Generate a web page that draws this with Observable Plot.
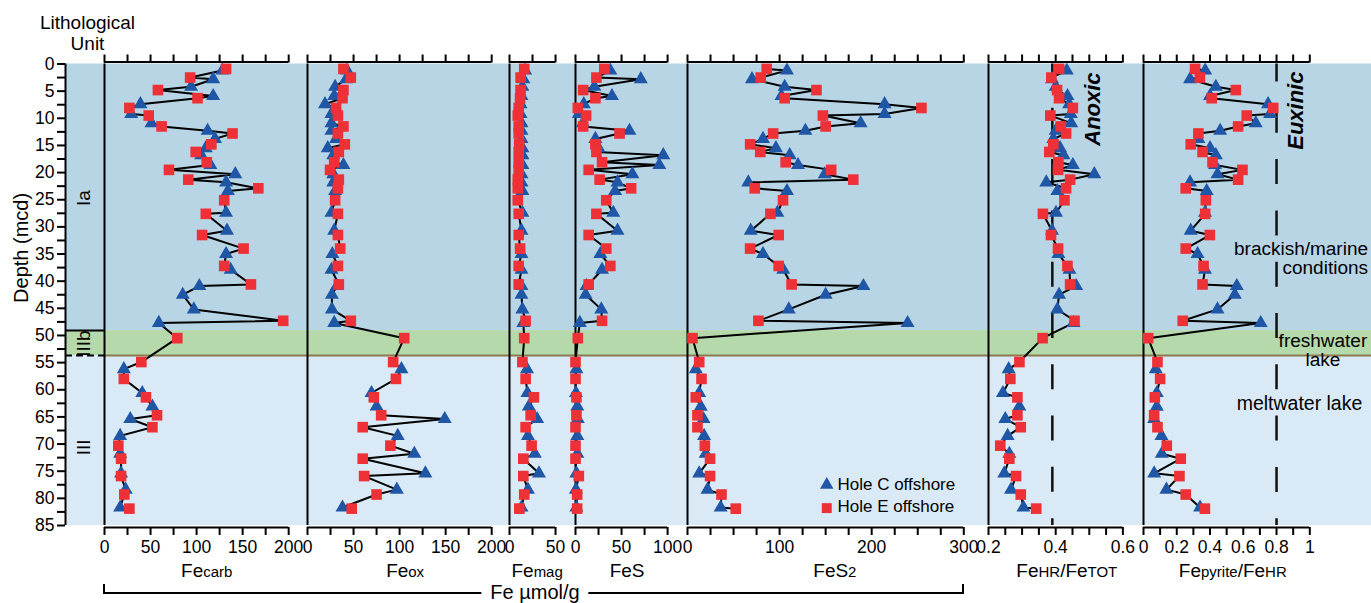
<!DOCTYPE html>
<html>
<head>
<meta charset="utf-8">
<script src="https://cdn.jsdelivr.net/npm/d3@7"></script>
<script src="https://cdn.jsdelivr.net/npm/@observablehq/plot@0.6"></script>
<style>
  body { margin: 0; background: #fff; font-family: "Liberation Sans", Arial, Helvetica, sans-serif; }
  #chart { position: relative; width: 1371px; height: 603px; overflow: hidden; background: #fff; }
  #chart svg { position: absolute; top: 0; overflow: visible; }
  #bracket { position: absolute; left: 103px; top: 584px; width: 861px; height: 10px; box-sizing: border-box;
             border-left: 2px solid #000; border-right: 2px solid #000; border-bottom: 2px solid #000; }
  #bracketLabel { position: absolute; left: 535px; top: 582px; transform: translateX(-50%); background: #fff;
                  padding: 0 9px; font-size: 20px; line-height: 20px; color: #000; white-space: nowrap; }
</style>
</head>
<body>
<div id="chart"></div>
<script>
// ---------------- data ----------------
const depthC = [1.2,2.8,4.2,5.9,7.4,9.2,10.9,12.3,13.8,15.5,16.8,18.6,20.3,21.8,23.4,27.4,30.7,35.0,37.9,40.9,42.5,45.2,47.7,56.2,60.6,63.1,65.4,68.5,71.8,75.4,78.4,81.7];
const depthE = [0.9,2.5,4.8,6.3,8.1,9.5,11.5,12.8,14.8,16.2,18.1,19.5,21.3,22.9,25.1,27.6,31.5,34.0,37.2,40.6,47.3,50.5,54.9,58.0,61.4,64.7,66.9,70.3,72.7,75.9,79.3,81.9];

const fecarbC = [128,118,94,118,39,29,51,112,120,110,105,115,142,132,134,132,133,132,137,103,85,97,59,21,41,52,28,17,17,18,23,17];
const fecarbE = [132,93,58,101,27,48,62,139,116,99,111,70,91,167,130,110,106,151,130,159,194,79,40,21,45,57,52,15,18,18,21.5,27];

const feoxC = [43,42,30,29,19,26,26,26,31,22,28,39,28,28,30,26,29,27,26,32,26.5,26.5,29,102,69.5,75,149,98,116,128,97,38];
const feoxE = [39,47,39,38,31,33,39,33,40.5,34,29,24.5,34,33,30,33,33,35.5,33,34,47,105,93,96,72,80,60,90,60,61.5,75,48];

const femagC = [17,15,14,13,12,12,13,13,13,14,14,14,13,13,14,14,13,13,13,13,13,14,15,19,19.5,21,30,20,27.5,32,20,13];
const femagE = [16,12,12,11.5,10,9,10,10,10.5,10,10,10,9,9,9,10,10,11.5,10,10,17.5,16,14,17.5,26.5,23,17.5,24,15,15,16,10.7];

const fesC = [37.8,70.9,20.5,39.6,9,3.6,8,58.6,21.6,25,95.3,91,61.8,45.6,43,41,45.6,27,28.8,12,11,28,4.7,1,0.5,2,2.5,2,2,1,0.5,1];
const fesE = [31.3,22.7,8.3,21.6,2.5,11.5,8.3,47.8,21.6,22.7,28.8,14.3,26.2,60.4,33.4,22.7,14.3,33.4,37.8,14.3,28.8,2.5,0,0,1,1,0,0,0,3.6,1.8,1.8];

const fes2C = [108,70,105.5,102,214,214,188,128,82,96,111,120,149,66,108,97.6,68.7,82,104,191,150,110,239,9,12.7,14.4,17.4,18,19.8,12.7,21.7,36];
const fes2E = [86,79.5,140,105.5,254,147,150,93,68,79,106.6,156,180,73,103.7,90,99,68,99,113,77,5.4,12.7,15.2,9,10.8,10.8,18.8,24.5,24.5,36.9,52.4];

const fehrC = [0.433,0.389,0.40,0.435,0.44,0.445,0.446,0.40,0.393,0.413,0.423,0.451,0.515,0.372,0.405,0.401,0.389,0.408,0.441,0.461,0.41,0.405,0.453,0.26,0.243,0.292,0.25,0.257,0.262,0.247,0.267,0.304];
const fehrE = [0.410,0.387,0.404,0.410,0.451,0.384,0.415,0.431,0.393,0.381,0.408,0.407,0.443,0.431,0.426,0.362,0.386,0.407,0.435,0.443,0.456,0.361,0.292,0.265,0.286,0.286,0.296,0.235,0.262,0.282,0.296,0.342];

const fepyC = [0.371,0.28,0.435,0.40,0.749,0.761,0.675,0.461,0.33,0.40,0.435,0.43,0.445,0.28,0.38,0.37,0.284,0.325,0.37,0.561,0.549,0.445,0.705,0.074,0.08,0.08,0.064,0.108,0.11,0.064,0.138,0.34];
const fepyE = [0.31,0.339,0.555,0.41,0.78,0.621,0.569,0.33,0.284,0.355,0.415,0.595,0.569,0.254,0.375,0.371,0.399,0.254,0.361,0.355,0.236,0.028,0.084,0.1,0.068,0.064,0.084,0.14,0.224,0.216,0.254,0.369];

const anoxicThreshold = 0.39;
const euxinicThreshold = 0.8;

// lithological units
const zoneName = ["Ia", "IIIb", "III"];
const zoneTop = [0, 49.1, 53.7];
const zoneBottom = [49.1, 53.7, 85];
const zoneLabelDepth = [24.7, 51.5, 70.6];
const zoneColor = ["#b8d5e6", "#b5d9aa", "#d9eaf6"];

// ticks
const depthTicks = [0,2.5,5,7.5,10,12.5,15,17.5,20,22.5,25,27.5,30,32.5,35,37.5,40,42.5,45,47.5,50,52.5,55,57.5,60,62.5,65,67.5,70,72.5,75,77.5,80,82.5,85];
const depthLabels = [0,5,10,15,20,25,30,35,40,45,50,55,60,65,70,75,80,85];
const ticks200 = [0,25,50,75,100,125,150,175,200];
const labels200 = [0,50,100,150,200];
const femagTicks = [0,25,50];
const femagLabels = [0,50];
const fesTicks = [0,25,50,75,100];
const fesLabels = [0,50,100];
const fes2Ticks = [0,25,50,75,100,125,150,175,200,225,250,275,300];
const fes2Labels = [0,100,200,300];
const fehrTicks = [0.2,0.25,0.3,0.35,0.4,0.45,0.5,0.55,0.6];
const fehrLabels = [0.2,0.4,0.6];
const fepyTicks = [0,0.1,0.2,0.3,0.4,0.5,0.6,0.7,0.8,0.9,1];
const fepyLabels = [0,0.2,0.4,0.6,0.8,1];

// ---------------- layout & style ----------------
const FONT = '"Liberation Sans", Arial, Helvetica, sans-serif';
const BLUE = "#1f56a5", RED = "#ed3136", BROWN = "#8b7a4e";
const H = 603, TOP = 63.5, BOTTOM = 525;
const K = 0.921; // px per µmol/g
const DASH = {strokeDasharray: "25,26.3", strokeDashoffset: 7};

const chart = document.getElementById("chart");
const zones = zoneName.map((n, i) => ({name: n, top: zoneTop[i], bottom: zoneBottom[i], label: zoneLabelDepth[i], color: zoneColor[i]}));

function place(svg, left) {
  svg.style.position = "absolute";
  svg.style.left = left + "px";
  svg.style.top = "0px";
  svg.style.overflow = "visible";
  svg.style.background = "transparent";
  svg.style.fontFamily = FONT;
  chart.appendChild(svg);
  return svg;
}

// background across the panels
place(Plot.plot({
  width: 1267, height: H, marginLeft: 0, marginRight: 0, marginTop: TOP, marginBottom: H - BOTTOM,
  x: {domain: [0, 1], axis: null},
  y: {domain: [0, 85], reverse: true, axis: null},
  color: {type: "identity"},
  marks: [
    Plot.rect(zones, {y1: "top", y2: "bottom", fill: "color"}),
    Plot.ruleY([zoneTop[2]], {stroke: BROWN, strokeWidth: 2})
  ]
}), 104);

// lithological column + depth axis
place(Plot.plot({
  width: 104, height: H, marginLeft: 65, marginRight: 0, marginTop: TOP, marginBottom: H - BOTTOM,
  x: {domain: [0, 1], axis: null},
  y: {domain: [0, 85], reverse: true, label: null},
  color: {type: "identity"},
  marks: [
    Plot.rect(zones, {y1: "top", y2: "bottom", fill: "color"}),
    Plot.ruleY([zoneTop[1]], {stroke: "#000", strokeWidth: 2}),
    Plot.ruleY([zoneTop[2]], {stroke: "#000", strokeWidth: 2, strokeDasharray: "7,4"}),
    Plot.ruleX([0], {stroke: "#000", strokeWidth: 2}),
    Plot.axisY({anchor: "left", ticks: depthTicks, tickSize: 8, tickPadding: 3, strokeWidth: 2,
      tickFormat: d => depthLabels.includes(d) ? String(d) : "", fontSize: 17.5, label: null}),
    Plot.text(zones, {text: "name", y: "label", frameAnchor: "middle", dx: -1, rotate: -90, fontSize: 19}),
    Plot.text([{t: "Depth (mcd)", d: 44}], {text: "t", y: "d", frameAnchor: "left", dx: -44, rotate: -90, fontSize: 20}),
    Plot.text([{t: "Lithological\nUnit"}], {text: "t", frameAnchor: "top", dx: 2.5, dy: -14.5, lineAnchor: "bottom", lineHeight: 1.1, fontSize: 19})
  ]
}), 0);

// ---------------- panels ----------------
const panels = [
  {C: fecarbC, E: fecarbE, domain: [0, 200], ticks: ticks200, labels: labels200, x0: 104.3, w: 200 * K,
   title: [["Fe", 0], ["carb", 1]], titleAt: 111},
  {C: feoxC, E: feoxE, domain: [0, 200], ticks: ticks200, labels: labels200, x0: 306.7, w: 200 * K,
   title: [["Fe", 0], ["ox", 1]], titleAt: 106},
  {C: femagC, E: femagE, domain: [0, 50], ticks: femagTicks, labels: femagLabels, x0: 509.3, w: 50 * K,
   title: [["Fe", 0], ["mag", 1]], titleAt: 30},
  {C: fesC, E: fesE, domain: [0, 100], ticks: fesTicks, labels: fesLabels, x0: 575, w: 100 * K,
   title: [["FeS", 0]], titleAt: 56},
  {C: fes2C, E: fes2E, domain: [0, 300], ticks: fes2Ticks, labels: fes2Labels, x0: 686.7, w: 300 * K,
   title: [["FeS", 0], ["2", 1]], titleAt: 160,
   extra: [
     Plot.dot([{x: 151.2, y: 77.5}], {x: "x", y: "y", symbol: "triangle", r: 5, fill: BLUE}),
     Plot.dot([{x: 151.2, y: 81.8}], {x: "x", y: "y", symbol: "square", r: 5.6, fill: RED}),
     Plot.text([{t: "Hole C offshore", x: 162.9, y: 77.4}], {text: "t", x: "x", y: "y", textAnchor: "start", fontSize: 17}),
     Plot.text([{t: "Hole E offshore", x: 162.9, y: 81.6}], {text: "t", x: "x", y: "y", textAnchor: "start", fontSize: 17})
   ]},
  {C: fehrC, E: fehrE, domain: [0.2, 0.6], ticks: fehrTicks, labels: fehrLabels, x0: 988.3, w: 134.4,
   title: [["Fe", 0], ["HR", 1], ["/Fe", 0], ["TOT", 1]], titleAt: 0.433, threshold: anoxicThreshold,
   extra: [
     Plot.text([{t: "Anoxic", x: 0.51, y: 8.3}], {text: "t", x: "x", y: "y", rotate: -90, fontSize: 22, fontWeight: "bold", fontStyle: "italic"})
   ]},
  {C: fepyC, E: fepyE, domain: [0, 1], ticks: fepyTicks, labels: fepyLabels, x0: 1142.7, w: 166.3,
   title: [["Fe", 0], ["pyrite", 1], ["/Fe", 0], ["HR", 1]], titleAt: 0.537, threshold: euxinicThreshold,
   extra: [
     Plot.text([{t: "Euxinic", x: 0.914, y: 8.6}], {text: "t", x: "x", y: "y", rotate: -90, fontSize: 22, fontWeight: "bold", fontStyle: "italic"}),
     Plot.text([{t: "brackish/marine\nconditions", x: 1.35, y: 38.6}], {text: "t", x: "x", y: "y", textAnchor: "end", lineAnchor: "bottom", lineHeight: 1.0, fontSize: 19}),
     Plot.text([{t: "freshwater\nlake", x: 1.079, y: 55.6}], {text: "t", x: "x", y: "y", lineAnchor: "bottom", lineHeight: 1.0, fontSize: 19}),
     Plot.text([{t: "meltwater lake", x: 0.938, y: 63.74}], {text: "t", x: "x", y: "y", lineAnchor: "bottom", fontSize: 19.5})
   ]}
];

function styleTitle(svg, parts) {
  const key = parts.map(p => p[0]).join("");
  svg.querySelectorAll("text").forEach(t => {
    if (t.textContent === key && parts.length > 1) {
      t.textContent = "";
      for (const [s, small] of parts) {
        const ts = document.createElementNS("http://www.w3.org/2000/svg", "tspan");
        ts.setAttribute("font-size", small ? 15 : 19);
        ts.textContent = s;
        t.appendChild(ts);
      }
    }
  });
}

for (const p of panels) {
  const data = [
    ...p.C.map((v, i) => ({depth: depthC[i], v, hole: "C"})),
    ...p.E.map((v, i) => ({depth: depthE[i], v, hole: "E"}))
  ].sort((a, b) => a.depth - b.depth);
  const titleKey = p.title.map(d => d[0]).join("");
  const marks = [];
  if (p.threshold != null) marks.push(Plot.ruleX([p.threshold], {stroke: "#111", strokeWidth: 2.5, ...DASH}));
  marks.push(
    Plot.ruleX([p.domain[0]], {stroke: "#000", strokeWidth: 2}),
    Plot.ruleY([0], {dy: -2, stroke: "#000", strokeWidth: 2}),
    Plot.ruleY([85], {dy: 2, stroke: "#000", strokeWidth: 2}),
    Plot.axisX({anchor: "top", ticks: p.ticks, tickSize: 8, tickFormat: () => "", dy: -2, strokeWidth: 2, label: null}),
    Plot.axisX({anchor: "bottom", ticks: p.ticks, tickSize: 8, tickPadding: 5.5, dy: 2, strokeWidth: 2, fontSize: 17.5, label: null,
      tickFormat: d => p.labels.includes(d) ? String(d) : ""}),
    Plot.line(data, {x: "v", y: "depth", stroke: "#000", strokeWidth: 2}),
    Plot.dot(data.filter(d => d.hole === "C"), {x: "v", y: "depth", symbol: "triangle", r: 5.2, fill: BLUE}),
    Plot.dot(data.filter(d => d.hole === "E"), {x: "v", y: "depth", symbol: "square", r: 6, fill: RED}),
    ...(p.extra || []),
    Plot.text([{t: titleKey, x: p.titleAt}], {text: "t", x: "x", frameAnchor: "bottom", dy: 51.7, lineAnchor: "bottom", fontSize: 19})
  );
  const svg = Plot.plot({
    width: p.w, height: H, marginLeft: 0, marginRight: 0, marginTop: TOP, marginBottom: H - BOTTOM,
    x: {domain: p.domain, label: null},
    y: {domain: [0, 85], reverse: true, axis: null},
    marks
  });
  styleTitle(svg, p.title);
  place(svg, p.x0);
}

// bracket for the µmol/g panels
const br = document.createElement("div");
br.id = "bracket";
chart.appendChild(br);
const bl = document.createElement("div");
bl.id = "bracketLabel";
bl.textContent = "Fe µmol/g";
chart.appendChild(bl);
</script>
</body>
</html>
